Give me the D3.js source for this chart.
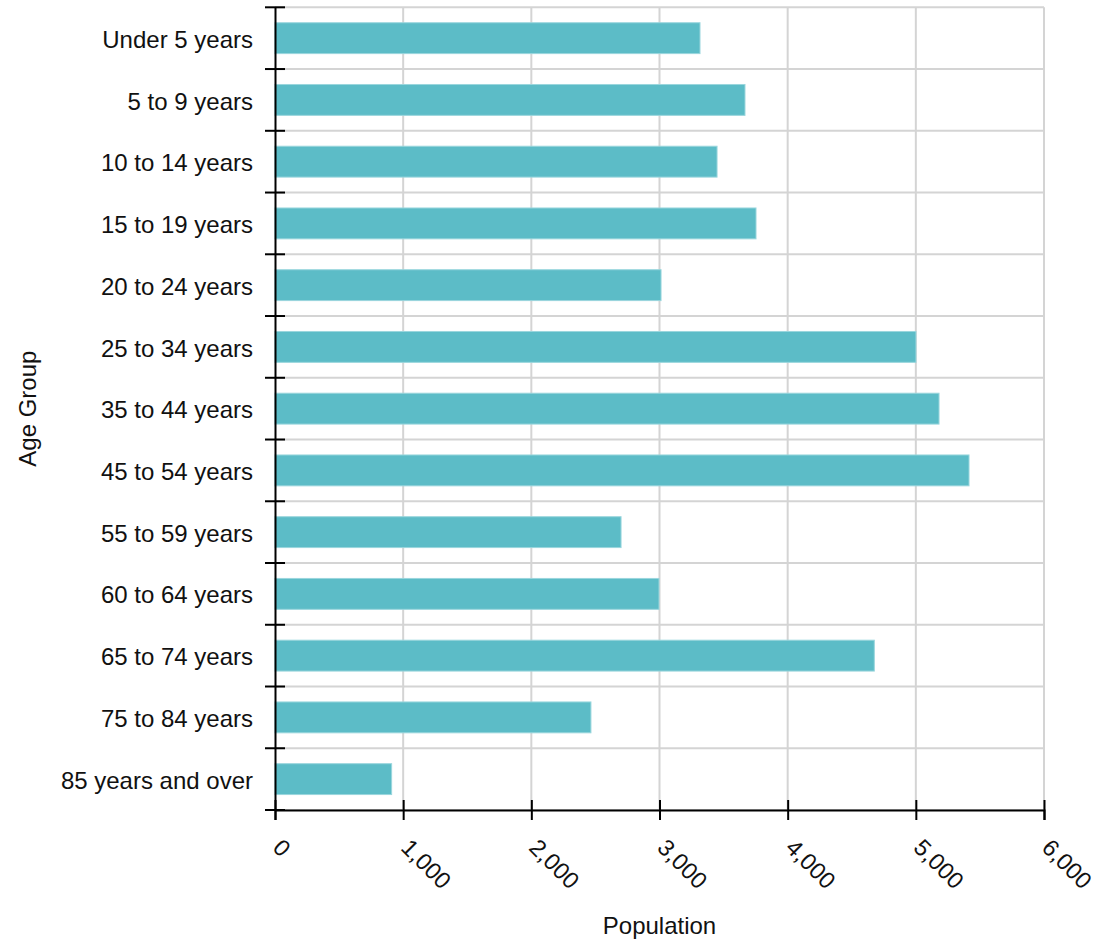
<!DOCTYPE html>
<html>
<head>
<meta charset="utf-8">
<script src="https://cdn.jsdelivr.net/npm/d3@7"></script>
<style>
  body { margin: 0; background: #fff; }
  text { font-family: "Liberation Sans", Arial, sans-serif; fill: #111; }
</style>
</head>
<body>
<div id="chart"></div>
<script>
// chart data
var ageGroups = ['Under 5 years', '5 to 9 years', '10 to 14 years', '15 to 19 years',
    '20 to 24 years', '25 to 34 years', '35 to 44 years', '45 to 54 years',
    '55 to 59 years', '60 to 64 years', '65 to 74 years', '75 to 84 years',
    '85 years and over'];
var population = [3316, 3667, 3449, 3753, 3012, 5001, 5181, 5415, 2700, 2996, 4676, 2465, 910];
var xTicks = [0, 1000, 2000, 3000, 4000, 5000, 6000];

var svgWidth = 1106;
var svgHeight = 941;
var margins = { top: 7.3, right: 62, bottom: 131, left: 275 };
var chartWidth = svgWidth - margins.left - margins.right;
var chartHeight = svgHeight - margins.top - margins.bottom;

var svg = d3.select('#chart')
    .append('svg')
    .attr('width', svgWidth)
    .attr('height', svgHeight);

var chartGroup = svg.append('g')
    .attr('transform', `translate(${margins.left}, ${margins.top})`);

// scales
var xScale = d3.scaleLinear()
    .domain([0, 6000])
    .range([0, chartWidth]);

var yScale = d3.scaleBand()
    .domain(ageGroups)
    .range([0, chartHeight]);

var step = yScale.step();
var boundaries = d3.range(ageGroups.length + 1).map(i => i * step);

// grid lines
chartGroup.append('g')
    .selectAll('line')
    .data(boundaries)
    .enter()
    .append('line')
    .attr('x1', 0)
    .attr('x2', chartWidth)
    .attr('y1', d => d)
    .attr('y2', d => d)
    .attr('stroke', '#d4d4d4')
    .attr('stroke-width', 2);

chartGroup.append('g')
    .selectAll('line')
    .data(xTicks.slice(1))
    .enter()
    .append('line')
    .attr('x1', d => xScale(d))
    .attr('x2', d => xScale(d))
    .attr('y1', 0)
    .attr('y2', chartHeight)
    .attr('stroke', '#d4d4d4')
    .attr('stroke-width', 2);

// bars
chartGroup.selectAll('rect.bar')
    .data(ageGroups)
    .enter()
    .append('rect')
    .attr('class', 'bar')
    .attr('x', xScale(0))
    .attr('y', d => yScale(d) + step * 0.25)
    .attr('width', (d, i) => xScale(population[i]) - xScale(0))
    .attr('height', step * 0.5)
    .attr('fill', '#5cbcc7')
    .attr('stroke', '#9ad6dd')
    .attr('stroke-width', 1);

// x axis
var bottomAxis = d3.axisBottom(xScale)
    .tickValues(xTicks)
    .tickFormat(d3.format(','))
    .tickSize(10);

var xAxisGroup = chartGroup.append('g')
    .attr('transform', `translate(0, ${chartHeight})`)
    .call(bottomAxis);

xAxisGroup.select('.domain').attr('stroke', '#000').attr('stroke-width', 2);
xAxisGroup.selectAll('.tick line')
    .attr('y1', -10)
    .attr('y2', 10)
    .attr('stroke', '#000')
    .attr('stroke-width', 2);
xAxisGroup.selectAll('.tick text')
    .attr('x', 0)
    .attr('y', 0)
    .attr('dy', null)
    .attr('text-anchor', 'start')
    .attr('transform', 'translate(-4, 39) rotate(45)')
    .style('font-size', '23.5px')
    .style('font-family', '"Liberation Sans", Arial, sans-serif')
    .attr('fill', '#111');

// y axis
var leftAxis = d3.axisLeft(yScale)
    .tickSize(0)
    .tickPadding(22);

var yAxisGroup = chartGroup.append('g')
    .call(leftAxis);

yAxisGroup.select('.domain').attr('stroke', '#000').attr('stroke-width', 2);
yAxisGroup.selectAll('.tick text')
    .attr('dy', '0.4em')
    .style('font-size', '24px')
    .style('font-family', '"Liberation Sans", Arial, sans-serif')
    .attr('fill', '#111');

// ticks on band edges
yAxisGroup.selectAll('line.edge')
    .data(boundaries)
    .enter()
    .append('line')
    .attr('class', 'edge')
    .attr('x1', -10)
    .attr('x2', 10)
    .attr('y1', d => d)
    .attr('y2', d => d)
    .attr('stroke', '#000')
    .attr('stroke-width', 2);

// axis titles
svg.append('text')
    .attr('x', margins.left + chartWidth / 2)
    .attr('y', 934)
    .attr('text-anchor', 'middle')
    .style('font-size', '24px')
    .text('Population');

svg.append('text')
    .attr('transform', `translate(36, ${margins.top + chartHeight / 2}) rotate(-90)`)
    .attr('text-anchor', 'middle')
    .style('font-size', '24px')
    .text('Age Group');
</script>
</body>
</html>
